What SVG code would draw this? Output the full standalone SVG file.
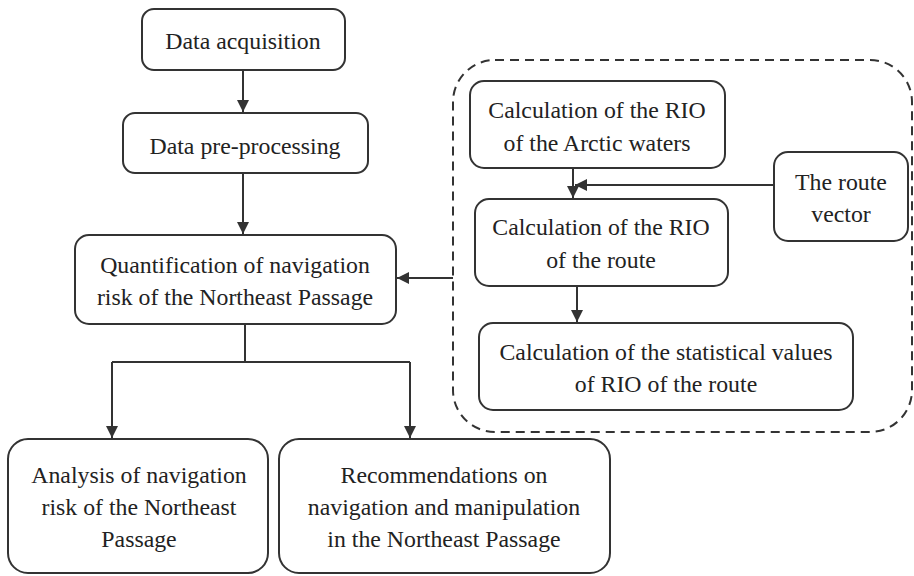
<svg xmlns="http://www.w3.org/2000/svg" width="914" height="576" viewBox="0 0 914 576">
<defs>
<style>
.box{fill:#fff;stroke:#333;stroke-width:2}
.t{font-family:'Liberation Serif','DejaVu Serif',serif;font-size:23.8px;fill:#222;text-anchor:middle}
.c{fill:none;stroke:#333;stroke-width:2}
.dash{fill:none;stroke:#333;stroke-width:2;stroke-dasharray:9 6}
</style>
<marker id="a" viewBox="0 0 12 12" refX="12" refY="6" markerWidth="12" markerHeight="12" markerUnits="userSpaceOnUse" orient="auto">
<path d="M0,0 L12,6 L0,12 z" fill="#333"/>
</marker>
</defs>
<rect width="914" height="576" fill="#fff"/>
<g id="container"><rect class="dash" x="453" y="60" width="459" height="372" rx="42"/></g>
<g id="connectors">
<line class="c" x1="243" y1="70" x2="243" y2="112" marker-end="url(#a)"/>
<line class="c" x1="243" y1="173" x2="243" y2="234" marker-end="url(#a)"/>
<polyline class="c" points="245,324 245,362"/>
<polyline class="c" points="112,362 410,362"/>
<line class="c" x1="112" y1="362" x2="112" y2="438" marker-end="url(#a)"/>
<line class="c" x1="410" y1="362" x2="410" y2="438" marker-end="url(#a)"/>
<line class="c" x1="453" y1="278" x2="397" y2="278" marker-end="url(#a)"/>
<line class="c" x1="573" y1="168" x2="573" y2="198" marker-end="url(#a)"/>
<line class="c" x1="774" y1="185" x2="575" y2="185" marker-end="url(#a)"/>
<line class="c" x1="577" y1="286" x2="577" y2="322" marker-end="url(#a)"/>
</g>
<g id="n1"><rect class="box" x="142" y="9" width="203" height="61" rx="12"/><text class="t" x="243" y="49">Data acquisition</text></g>
<g id="n2"><rect class="box" x="123" y="113" width="245" height="60" rx="12"/><text class="t" x="245" y="154">Data pre-processing</text></g>
<g id="n3"><rect class="box" x="75" y="235" width="321" height="89" rx="14"/><text class="t" x="235" y="273">Quantification of navigation</text><text class="t" x="235" y="305">risk of the Northeast Passage</text></g>
<g id="n4"><rect class="box" x="8" y="439" width="260" height="134" rx="20"/><text class="t" x="139" y="483">Analysis of navigation</text><text class="t" x="139" y="515">risk of the Northeast</text><text class="t" x="139" y="547">Passage</text></g>
<g id="n5"><rect class="box" x="279" y="439" width="331" height="134" rx="20"/><text class="t" x="444" y="483">Recommendations on</text><text class="t" x="444" y="515">navigation and manipulation</text><text class="t" x="444" y="547">in the Northeast Passage</text></g>
<g id="n6"><rect class="box" x="470" y="81" width="255" height="87" rx="14"/><text class="t" x="597" y="118">Calculation of the RIO</text><text class="t" x="597" y="151">of the Arctic waters</text></g>
<g id="n7"><rect class="box" x="774" y="152" width="134" height="89" rx="14"/><text class="t" x="841" y="190">The route</text><text class="t" x="841" y="222">vector</text></g>
<g id="n8"><rect class="box" x="475" y="199" width="253" height="87" rx="14"/><text class="t" x="601" y="235">Calculation of the RIO</text><text class="t" x="601" y="268">of the route</text></g>
<g id="n9"><rect class="box" x="479" y="323" width="374" height="87" rx="14"/><text class="t" x="666" y="360">Calculation of the statistical values</text><text class="t" x="666" y="392">of RIO of the route</text></g>
</svg>
